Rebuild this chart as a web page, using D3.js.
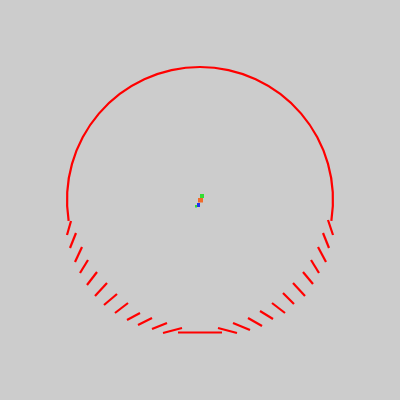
<!DOCTYPE html>
<html>
<head>
<meta charset="utf-8">
<script src="https://cdn.jsdelivr.net/npm/d3@7"></script>
<style>
html,body{margin:0;padding:0;background:#cccccc;}
svg{display:block;}
</style>
</head>
<body>
<script>
// Ring (continuous upper part): radius and angular extent (degrees, 0 = top, clockwise)
const ringRadius = 133;
const ringStart = -99;
const ringEnd = 99;

// Lower dashes: [x1, y1, x2, y2] relative to centre (y down)
const dashes = [
  [-133, 35, -129, 21],
  [-130, 48, -124, 33],
  [-125, 62, -118, 47],
  [-120, 73, -112, 60],
  [-113, 85, -103, 72],
  [-105, 96, -93, 83],
  [-96, 105, -83, 94],
  [-85, 113, -72, 103],
  [-73, 120, -60, 113],
  [-62, 125, -48, 118],
  [-48, 129, -33, 123],
  [-37, 133, -18, 128],
  [-22, 132.5, 22, 132.5],
  [18, 128, 37, 133],
  [33, 123, 50, 130],
  [48, 118, 62, 126],
  [60, 111, 73, 119],
  [72, 103, 85, 113],
  [83, 93, 94, 104],
  [93, 83, 105, 96],
  [103, 72, 113, 84],
  [111, 60, 119, 73],
  [118, 47, 126, 62],
  [123, 33, 129, 48],
  [128, 20, 133, 35]
];

// Central particles: [x, y, w, h, colour]
const particles = [
  [0, -6, 4, 4, "#33dd33"],
  [-2, -2, 5, 4.5, "#f26a2a"],
  [-3, 3, 3, 4, "#2233ee"],
  [-5, 5, 2, 2.5, "#33dd33"]
];

const W = 400, H = 400;
const x = d3.scaleLinear().domain([-200, 200]).range([0, W]);
const y = d3.scaleLinear().domain([-200, 200]).range([0, H]);
const r = d3.scaleLinear().domain([0, 200]).range([0, 200]);

const svg = d3.select("body").append("svg").attr("width", W).attr("height", H);
svg.append("rect").attr("width", W).attr("height", H).attr("fill", "#cccccc");

const g = svg.append("g").attr("transform", `translate(${x(0)},${y(0)})`);

g.append("path")
  .attr("d", d3.arc()
    .innerRadius(r(ringRadius) - 1.1)
    .outerRadius(r(ringRadius) + 1.1)
    .startAngle(ringStart * Math.PI / 180)
    .endAngle(ringEnd * Math.PI / 180)())
  .attr("fill", "#ff0000");

svg.selectAll("line.dash").data(dashes).enter().append("line")
  .attr("class", "dash")
  .attr("x1", d => x(d[0])).attr("y1", d => y(d[1]))
  .attr("x2", d => x(d[2])).attr("y2", d => y(d[3]))
  .attr("stroke", "#ff0000").attr("stroke-width", 2.2);

svg.selectAll("rect.p").data(particles).enter().append("rect")
  .attr("class", "p")
  .attr("x", d => x(d[0])).attr("y", d => y(d[1]))
  .attr("width", d => d[2]).attr("height", d => d[3])
  .attr("fill", d => d[4]);
</script>
</body>
</html>
